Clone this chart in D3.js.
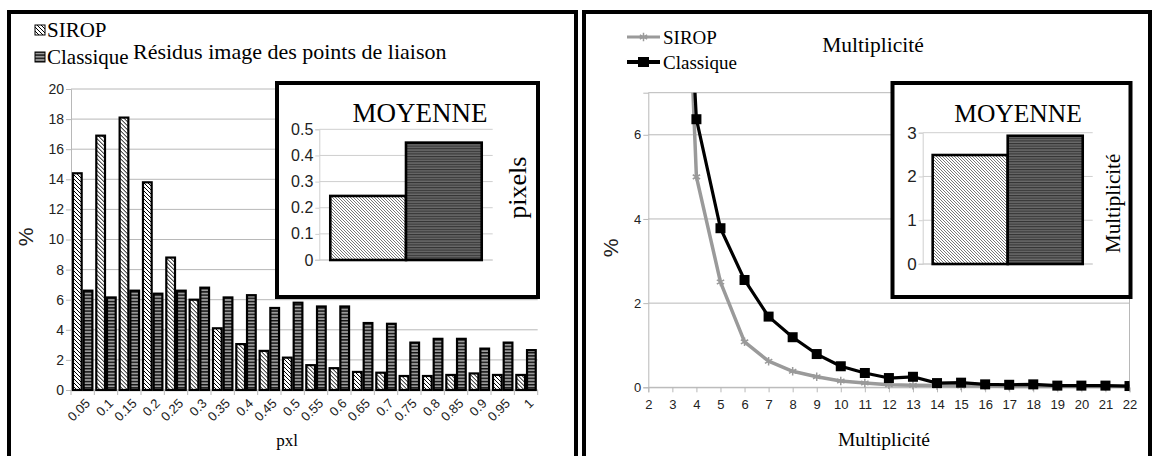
<!DOCTYPE html>
<html><head><meta charset="utf-8">
<script src="https://cdn.jsdelivr.net/npm/d3@7"></script>
<style>html,body{margin:0;padding:0;background:#fff;}svg{display:block;}</style>
</head><body>
<svg id="c" width="1158" height="456"></svg>
<script>
// ---------- DATA ----------
const pxlCategories = ["0.05","0.1","0.15","0.2","0.25","0.3","0.35","0.4","0.45","0.5","0.55","0.6","0.65","0.7","0.75","0.8","0.85","0.9","0.95","1"];
const residuSirop    = [14.4,16.9,18.1,13.8,8.8,6.0,4.1,3.05,2.6,2.15,1.65,1.45,1.2,1.15,0.93,0.93,1.0,1.1,1.0,1.0];
const residuClassique= [6.6,6.15,6.6,6.4,6.6,6.8,6.15,6.3,5.45,5.8,5.55,5.55,4.45,4.4,3.15,3.4,3.4,2.75,3.15,2.65];
const residuYTicks = [0,2,4,6,8,10,12,14,16,18,20];
const seriesNames = ["SIROP","Classique"];
const moyennePixels = [0.245,0.449];
const moyennePixelsTicks = [0,0.1,0.2,0.3,0.4,0.5];

const multiplicite = [2,3,4,5,6,7,8,9,10,11,12,13,14,15,16,17,18,19,20,21,22];
const multSirop     = [45,19,5.0,2.5,1.08,0.62,0.38,0.25,0.15,0.1,0.06,0.05,0.04,0.03,0.03,0.02,0.02,0.02,0.02,0.02,0.02];
const multClassique = [40,17,6.37,3.78,2.55,1.68,1.19,0.79,0.5,0.34,0.22,0.25,0.1,0.11,0.07,0.06,0.07,0.04,0.04,0.04,0.03];
const multYTicks = [0,2,4,6];
const moyenneMult = [2.49,2.93];
const moyenneMultTicks = [0,1,2,3];

// ---------- SETUP ----------
const svg = d3.select("#c");
const SANS = "'Liberation Sans', Arial, sans-serif";
const SERIF = "'Liberation Serif', 'Times New Roman', serif";
const GRID = "#b8b8b8";
const TXT = "#222";

const defs = svg.append("defs");
function diagPattern(id, size, bg, fg, w){
  const p = defs.append("pattern").attr("id",id).attr("patternUnits","userSpaceOnUse").attr("width",size).attr("height",size);
  p.append("rect").attr("width",size).attr("height",size).attr("fill",bg);
  [[0,0,size,size],[-1,size-1,1,size+1],[size-1,-1,size+1,1]].forEach(l=>
    p.append("line").attr("x1",l[0]).attr("y1",l[1]).attr("x2",l[2]).attr("y2",l[3]).attr("stroke",fg).attr("stroke-width",w));
}
function horizPattern(id, size, bg, fg, h){
  const p = defs.append("pattern").attr("id",id).attr("patternUnits","userSpaceOnUse").attr("width",8).attr("height",size);
  p.append("rect").attr("width",8).attr("height",size).attr("fill",bg);
  p.append("rect").attr("y",0).attr("width",8).attr("height",h).attr("fill",fg);
}
diagPattern("diagMain",4,"#fff","#000",1);
horizPattern("horMain",3.2,"#9a9a9a","#111",1.4);
diagPattern("diagInset",3,"#fff","#555",0.8);
horizPattern("horInset",2.6,"#6a6a6a","#333",1.1);

const fillsMain = ["url(#diagMain)","url(#horMain)"];
const fillsInset = ["url(#diagInset)","url(#horInset)"];

// ---------- LEFT PANEL ----------
const L = svg.append("g");
L.append("rect").attr("x",9).attr("y",12).attr("width",567).attr("height",470).attr("fill","none").attr("stroke","#000").attr("stroke-width",4);

const lx = d3.scaleBand().domain(pxlCategories).range([71,537.7]).paddingInner(0).paddingOuter(0);
const ly = d3.scaleLinear().domain([0,20]).range([390,89]);
const lsub = d3.scaleBand().domain(seriesNames).range([0,lx.bandwidth()]).paddingOuter(0.09).paddingInner(0);

L.append("g").selectAll("line").data(residuYTicks).join("line")
  .attr("x1",71).attr("x2",537.7).attr("y1",d=>ly(d)).attr("y2",d=>ly(d)).attr("stroke",GRID).attr("stroke-width",1);
const lyAxis = L.append("g").attr("transform","translate(71,0)")
  .call(d3.axisLeft(ly).tickValues(residuYTicks).tickSize(5).tickFormat(d3.format("d")));
lyAxis.select(".domain").attr("stroke",GRID);
lyAxis.selectAll(".tick line").attr("stroke",GRID);
lyAxis.selectAll("text").attr("font-family",SANS).attr("font-size",14).attr("fill",TXT).attr("x",-7);

L.append("line").attr("x1",71).attr("x2",537.7).attr("y1",390).attr("y2",390).attr("stroke",GRID);
L.append("g").selectAll("line").data(d3.range(pxlCategories.length+1)).join("line")
  .attr("x1",i=>71+i*lx.step()).attr("x2",i=>71+i*lx.step()).attr("y1",390).attr("y2",395).attr("stroke",GRID);

const groups = L.append("g").selectAll("g").data(pxlCategories).join("g")
  .attr("transform",d=>`translate(${lx(d)},0)`);
groups.selectAll("rect").data((d,i)=>[residuSirop[i],residuClassique[i]].map((v,k)=>({v,k})))
  .join("rect")
  .attr("x",d=>lsub(seriesNames[d.k])+1).attr("width",lsub.bandwidth()-2)
  .attr("y",d=>ly(d.v)).attr("height",d=>ly(0)-ly(d.v))
  .attr("fill",d=>fillsMain[d.k]).attr("stroke","#000").attr("stroke-width",2.2);

L.append("g").selectAll("text").data(pxlCategories).join("text")
  .attr("transform",d=>`translate(${lx(d)+lx.bandwidth()/2+5},${401}) rotate(-45)`)
  .attr("text-anchor","end").attr("dy","0.35em")
  .attr("font-family",SANS).attr("font-size",13).attr("fill",TXT).text(d=>d);

L.append("text").attr("transform","translate(33,237) rotate(-90)").attr("text-anchor","middle")
  .attr("font-family",SANS).attr("font-size",21).attr("fill",TXT).text("%");
L.append("text").attr("x",287).attr("y",446).attr("text-anchor","middle")
  .attr("font-family",SERIF).attr("font-size",17).attr("fill","#000").text("pxl");
L.append("text").attr("x",133).attr("y",59).attr("font-family",SERIF).attr("font-size",22).attr("fill","#000")
  .text("Résidus image des points de liaison");
seriesNames.forEach((s,k)=>{
  const yy = [30,57][k];
  L.append("rect").attr("x",35).attr("y",yy-5).attr("width",10).attr("height",10)
    .attr("fill",fillsMain[k]).attr("stroke","#000").attr("stroke-width",1);
  L.append("text").attr("x",47).attr("y",yy).attr("dy","0.35em").attr("font-family",SERIF).attr("font-size",21)
    .attr("fill","#000").text(s);
});

function inset(g, box, plot, values, ticks, fmt, ylabel, ylabelX, titleX, pad, tickFont, titleSize, ylabSize){
  g.append("rect").attr("x",box.x).attr("y",box.y).attr("width",box.w).attr("height",box.h)
    .attr("fill","#fff").attr("stroke","#000").attr("stroke-width",4);
  const y = d3.scaleLinear().domain([ticks[0],ticks[ticks.length-1]]).range([plot.y0,plot.y1]);
  const x = d3.scaleBand().domain(seriesNames).range([plot.x0,plot.x1]).paddingInner(0).paddingOuter(pad);
  g.append("g").selectAll("line").data(ticks).join("line")
    .attr("x1",plot.x0).attr("x2",plot.x1).attr("y1",d=>y(d)).attr("y2",d=>y(d)).attr("stroke","#cfcfcf");
  const ax = g.append("g").attr("transform",`translate(${plot.x0},0)`)
    .call(d3.axisLeft(y).tickValues(ticks).tickSize(4).tickFormat(fmt));
  ax.select(".domain").attr("stroke","#cfcfcf");
  ax.selectAll(".tick line").attr("stroke","#cfcfcf");
  ax.selectAll("text").attr("font-family",SANS).attr("font-size",tickFont).attr("fill",TXT).attr("x",-6);
  g.append("line").attr("x1",plot.x0-4).attr("x2",plot.x1).attr("y1",plot.y0).attr("y2",plot.y0).attr("stroke","#cfcfcf");
  g.append("g").selectAll("rect").data(values).join("rect")
    .attr("x",(d,i)=>x(seriesNames[i])).attr("width",x.bandwidth())
    .attr("y",d=>y(d)).attr("height",d=>y(0)-y(d))
    .attr("fill",(d,i)=>fillsInset[i]).attr("stroke","#000").attr("stroke-width",2.6);
  g.append("text").attr("x",titleX).attr("y",box.y+39).attr("text-anchor","middle")
    .attr("font-family",SERIF).attr("font-size",titleSize).attr("fill","#000").text("MOYENNE");
  g.append("text").attr("transform",`translate(${ylabelX},${(plot.y0+plot.y1)/2+ (ylabel==="pixels"?-7:5)}) rotate(-90)`)
    .attr("text-anchor","middle").attr("dy","0.35em")
    .attr("font-family",SERIF).attr("font-size",ylabSize).attr("fill","#000").text(ylabel);
}
inset(L,{x:277,y:83,w:261,h:214},{x0:319.3,x1:492.7,y0:260,y1:129.3},moyennePixels,moyennePixelsTicks,d3.format(".1~f"),"pixels",517,420,0.145,16,27,26);

// ---------- RIGHT PANEL ----------
const R = svg.append("g");
R.append("rect").attr("x",584).attr("y",12).attr("width",566).attr("height",470).attr("fill","none").attr("stroke","#000").attr("stroke-width",4);

const rx = d3.scaleLinear().domain([2,22]).range([648.3,1129.5]);
const ry = d3.scaleLinear().domain([0,7]).range([387.3,92.7]);

R.append("g").selectAll("line").data(multYTicks.concat([7])).join("line")
  .attr("x1",648.3).attr("x2",1129.5).attr("y1",d=>ry(d)).attr("y2",d=>ry(d)).attr("stroke",GRID);
R.append("line").attr("x1",1129.5).attr("x2",1129.5).attr("y1",92.7).attr("y2",387.3).attr("stroke",GRID);
const ryAxis = R.append("g").attr("transform","translate(648.3,0)")
  .call(d3.axisLeft(ry).tickValues(multYTicks).tickSize(5).tickFormat(d3.format("d")));
ryAxis.select(".domain").attr("stroke",GRID);
ryAxis.selectAll(".tick line").attr("stroke",GRID);
ryAxis.selectAll("text").attr("font-family",SANS).attr("font-size",13).attr("fill",TXT).attr("x",-7);
const rxAxis = R.append("g").attr("transform","translate(0,387.3)")
  .call(d3.axisBottom(rx).tickValues(multiplicite).tickSize(5).tickFormat(d3.format("d")));
rxAxis.select(".domain").attr("stroke",GRID);
rxAxis.selectAll(".tick line").attr("stroke",GRID);
rxAxis.selectAll("text").attr("font-family",SANS).attr("font-size",13).attr("fill",TXT).attr("y",12);

defs.append("clipPath").attr("id","rclip").append("rect").attr("x",648.3).attr("y",92.7).attr("width",481.2).attr("height",300);
const plotG = R.append("g").attr("clip-path","url(#rclip)");
const line = d3.line().x((d,i)=>rx(multiplicite[i])).y(d=>ry(d));
plotG.append("path").datum(multSirop).attr("d",line).attr("fill","none").attr("stroke","#9a9a9a").attr("stroke-width",3.5).attr("stroke-linejoin","round");
plotG.append("g").selectAll("path").data(multSirop).join("path")
  .attr("transform",(d,i)=>`translate(${rx(multiplicite[i])},${ry(d)})`)
  .attr("d",d3.symbol(d3.symbolAsterisk,50)).attr("fill","none").attr("stroke","#9a9a9a").attr("stroke-width",1.5);
plotG.append("path").datum(multClassique).attr("d",line).attr("fill","none").attr("stroke","#000").attr("stroke-width",3.2).attr("stroke-linejoin","round");
plotG.append("g").selectAll("rect").data(multClassique).join("rect")
  .attr("x",(d,i)=>rx(multiplicite[i])-5).attr("y",d=>ry(d)-5).attr("width",10).attr("height",10).attr("fill","#000");

R.append("text").attr("transform","translate(611,248) rotate(-90)").attr("text-anchor","middle").attr("dy","0.35em")
  .attr("font-family",SANS).attr("font-size",21).attr("fill",TXT).text("%");
R.append("text").attr("x",884).attr("y",446).attr("text-anchor","middle")
  .attr("font-family",SERIF).attr("font-size",19.5).attr("fill","#000").text("Multiplicité");
R.append("text").attr("x",873).attr("y",52).attr("text-anchor","middle")
  .attr("font-family",SERIF).attr("font-size",21.5).attr("fill","#000").text("Multiplicité");
[["SIROP",37,"#9a9a9a"],["Classique",62,"#000"]].forEach(([s,yy,c],k)=>{
  R.append("line").attr("x1",627).attr("x2",660).attr("y1",yy).attr("y2",yy).attr("stroke",c).attr("stroke-width",k?4:3);
  if(k) R.append("rect").attr("x",638).attr("y",yy-5).attr("width",11).attr("height",10).attr("fill","#000");
  else R.append("path").attr("transform",`translate(643.5,${yy})`).attr("d",d3.symbol(d3.symbolAsterisk,50)).attr("fill","none").attr("stroke",c).attr("stroke-width",1.5);
  R.append("text").attr("x",663).attr("y",yy).attr("dy","0.35em").attr("font-family",SERIF).attr("font-size",19).attr("fill","#000").text(s);
});

inset(R,{x:892.5,y:83,w:238,h:214},{x0:922.7,x1:1092.7,y0:264,y1:132.7},moyenneMult,moyenneMultTicks,d3.format("d"),"Multiplicité",1113,1018,0.133,17,25.5,21);
</script>
</body></html>
